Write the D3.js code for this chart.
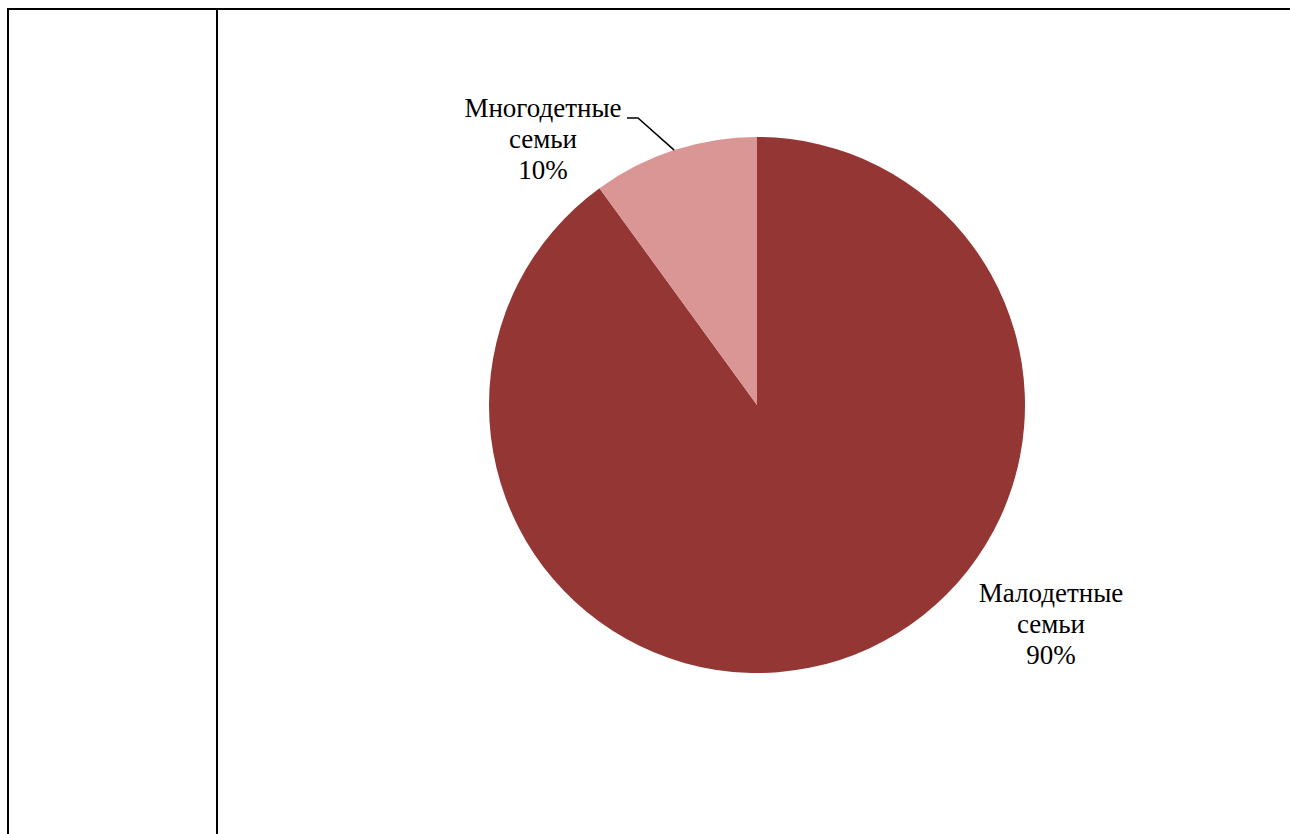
<!DOCTYPE html>
<html>
<head>
<meta charset="utf-8">
<script src="https://cdn.jsdelivr.net/npm/d3@7"></script>
<style>
  html, body { margin: 0; padding: 0; background: #fff; }
  svg { display: block; }
  .lbl { font-family: "Liberation Serif", serif; }
</style>
</head>
<body>
<div id="chart"></div>
<script>
// данные диаграммы
var categories = ["Малодетные семьи", "Многодетные семьи"];
var labelLines = [["Малодетные", "семьи"], ["Многодетные", "семьи"]];
var values = [90, 10];
var colors = ["#943634", "#D99694"];

var width = 1290,
    height = 834;

var svg = d3.select("#chart")
    .append("svg")
    .attr("width", width)
    .attr("height", height);

// рамка таблицы
svg.append("line").attr("x1", 8).attr("x2", width).attr("y1", 9).attr("y2", 9)
    .attr("stroke", "#000").attr("stroke-width", 2);
svg.append("line").attr("x1", 8).attr("x2", 8).attr("y1", 8).attr("y2", height)
    .attr("stroke", "#000").attr("stroke-width", 2);
svg.append("line").attr("x1", 217).attr("x2", 217).attr("y1", 8).attr("y2", height)
    .attr("stroke", "#000").attr("stroke-width", 2);

var cx = 757,
    cy = 405,
    radius = 268;

var pie = d3.pie().sort(null).value(function (d) { return d; });
var arc = d3.arc().innerRadius(0).outerRadius(radius);
var arcs = pie(values);

var g = svg.append("g").attr("transform", "translate(" + cx + "," + cy + ")");

g.selectAll("path")
    .data(arcs)
    .enter()
    .append("path")
    .attr("d", arc)
    .attr("fill", function (d, i) { return colors[i]; });

// подписи: положение относительно центра
var labelPos = [[294, 197], [-214, -288]];

arcs.forEach(function (a, i) {
    var t = g.append("text")
        .attr("class", "lbl")
        .attr("x", labelPos[i][0])
        .attr("y", labelPos[i][1])
        .attr("text-anchor", "middle")
        .style("font-size", "27px")
        .attr("fill", "#000");
    var lines = labelLines[i].concat([Math.round(values[i] / d3.sum(values) * 100) + "%"]);
    lines.forEach(function (s, k) {
        t.append("tspan")
            .attr("x", labelPos[i][0])
            .attr("dy", k === 0 ? 0 : 31)
            .text(s);
    });
});

// выноска для маленького сектора
var mid = (arcs[1].startAngle + arcs[1].endAngle) / 2;
var px = Math.sin(mid) * radius,
    py = -Math.cos(mid) * radius;
g.append("polyline")
    .attr("points", [[-130, -287], [-119, -287], [px, py]].map(function (p) { return p.join(","); }).join(" "))
    .attr("fill", "none")
    .attr("stroke", "#000")
    .attr("stroke-width", 1.5);
</script>
</body>
</html>
